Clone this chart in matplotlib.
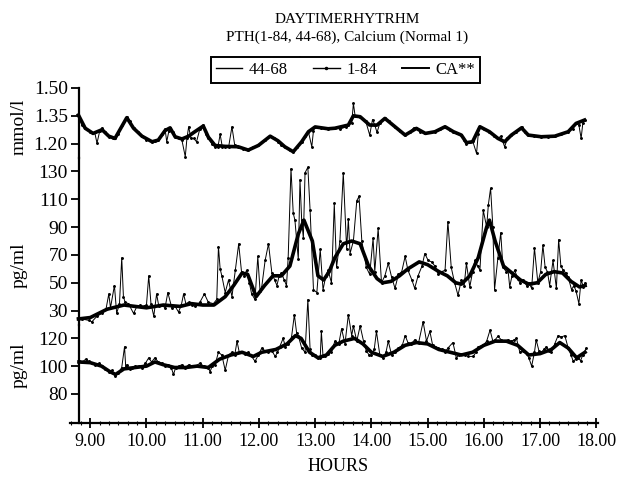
import matplotlib
matplotlib.use("Agg")
import matplotlib.pyplot as plt
from matplotlib.lines import Line2D
from matplotlib.ticker import MultipleLocator

plt.rcParams['font.family'] = ['Liberation Serif', 'DejaVu Serif']

# ---------------- data ----------------
# Calcium (mmol/l), raw samples
ca_t = [8.79, 8.85, 8.91, 9.00, 9.08, 9.12, 9.17, 9.21, 9.27, 9.33, 9.40, 9.44, 9.50, 9.57, 9.65, 9.70,
        9.77, 9.85, 9.92, 10.00, 10.10, 10.16, 10.21, 10.28, 10.33, 10.36, 10.40, 10.42, 10.47, 10.51,
        10.58, 10.63, 10.69, 10.72, 10.75, 10.79, 10.84, 10.89, 10.95, 11.01, 11.06, 11.10, 11.16, 11.22,
        11.27, 11.31, 11.35, 11.40, 11.46, 11.52, 11.57, 11.63, 11.72, 11.81, 11.90, 11.99, 12.10, 12.20,
        12.27, 12.34, 12.40, 12.46, 12.55, 12.61, 12.68, 12.76, 12.82, 12.88, 12.94, 12.97, 13.00, 13.10,
        13.23, 13.35, 13.45, 13.55, 13.59, 13.65, 13.68, 13.71, 13.80, 13.90, 13.97, 14.02, 14.06, 14.10,
        14.15, 14.24, 14.32, 14.42, 14.50, 14.60, 14.68, 14.75, 14.80, 14.87, 14.96, 15.05, 15.13, 15.22,
        15.31, 15.40, 15.46, 15.53, 15.60, 15.65, 15.69, 15.75, 15.80, 15.87, 15.90, 15.93, 16.00, 16.10,
        16.18, 16.25, 16.30, 16.37, 16.42, 16.49, 16.58, 16.67, 16.73, 16.79, 16.90, 17.02, 17.14, 17.26,
        17.38, 17.50, 17.58, 17.64, 17.69, 17.73, 17.76, 17.79]
ca_v = [1.354, 1.300, 1.283, 1.260, 1.260, 1.202, 1.270, 1.286, 1.260, 1.237, 1.230, 1.228, 1.250, 1.300,
        1.345, 1.320, 1.283, 1.260, 1.240, 1.220, 1.210, 1.215, 1.219, 1.250, 1.280, 1.210, 1.270, 1.285,
        1.260, 1.237, 1.230, 1.219, 1.129, 1.230, 1.291, 1.230, 1.228, 1.210, 1.280, 1.300, 1.250, 1.228,
        1.200, 1.183, 1.180, 1.250, 1.180, 1.183, 1.180, 1.291, 1.190, 1.183, 1.170, 1.165, 1.180, 1.192,
        1.220, 1.240, 1.230, 1.210, 1.190, 1.183, 1.165, 1.156, 1.180, 1.210, 1.240, 1.264, 1.183, 1.270,
        1.291, 1.285, 1.279, 1.283, 1.280, 1.290, 1.300, 1.310, 1.417, 1.350, 1.345, 1.320, 1.246, 1.330,
        1.300, 1.260, 1.310, 1.336, 1.320, 1.291, 1.270, 1.246, 1.260, 1.285, 1.282, 1.265, 1.255, 1.260,
        1.264, 1.280, 1.291, 1.275, 1.264, 1.255, 1.246, 1.220, 1.200, 1.210, 1.215, 1.147, 1.250, 1.291,
        1.280, 1.264, 1.240, 1.228, 1.240, 1.183, 1.230, 1.246, 1.260, 1.291, 1.260, 1.246, 1.240, 1.237,
        1.235, 1.240, 1.250, 1.264, 1.280, 1.309, 1.300, 1.228, 1.310, 1.327]
# Calcium, smoothed curve
ca_st = [8.79, 8.91, 9.05, 9.21, 9.33, 9.44, 9.65, 9.77, 9.92, 10.10, 10.21, 10.33, 10.42, 10.51, 10.63,
         10.75, 10.84, 11.01, 11.10, 11.22, 11.40, 11.63, 11.81, 11.99, 12.20, 12.34, 12.46, 12.61, 12.76,
         12.88, 13.00, 13.23, 13.35, 13.59, 13.68, 13.80, 13.97, 14.10, 14.24, 14.42, 14.60, 14.80, 14.96,
         15.13, 15.31, 15.46, 15.60, 15.69, 15.80, 15.93, 16.10, 16.25, 16.37, 16.49, 16.67, 16.79, 17.02,
         17.26, 17.50, 17.64, 17.79]
ca_sv = [1.354, 1.283, 1.255, 1.275, 1.240, 1.228, 1.340, 1.283, 1.240, 1.210, 1.219, 1.270, 1.285, 1.237,
         1.225, 1.240, 1.260, 1.295, 1.235, 1.190, 1.185, 1.183, 1.165, 1.190, 1.240, 1.215, 1.183, 1.156,
         1.210, 1.264, 1.290, 1.280, 1.283, 1.300, 1.350, 1.345, 1.300, 1.300, 1.336, 1.291, 1.246, 1.282,
         1.255, 1.264, 1.291, 1.264, 1.246, 1.205, 1.210, 1.291, 1.264, 1.228, 1.210, 1.246, 1.285, 1.246,
         1.237, 1.240, 1.264, 1.309, 1.327]

# PTH 1-84 (pg/ml), raw samples
p184_t = [8.79, 8.85, 8.97, 9.03, 9.12, 9.21, 9.28, 9.33, 9.36, 9.43, 9.47, 9.52, 9.56, 9.59, 9.62, 9.68,
          9.77, 9.83, 9.89, 9.95, 10.00, 10.04, 10.08, 10.13, 10.18, 10.22, 10.27, 10.33, 10.38, 10.45,
          10.51, 10.57, 10.62, 10.66, 10.70, 10.75, 10.81, 10.87, 10.95, 11.03, 11.10, 11.19, 11.25, 11.28,
          11.31, 11.34, 11.40, 11.46, 11.52, 11.58, 11.64, 11.69, 11.74, 11.78, 11.83, 11.87, 11.93, 11.98,
          12.02, 12.05, 12.11, 12.17, 12.23, 12.28, 12.32, 12.36, 12.40, 12.45, 12.49, 12.52, 12.57, 12.61,
          12.64, 12.70, 12.73, 12.76, 12.79, 12.82, 12.87, 12.91, 12.97, 13.03, 13.09, 13.14, 13.19, 13.23,
          13.29, 13.34, 13.38, 13.44, 13.50, 13.56, 13.59, 13.62, 13.68, 13.74, 13.78, 13.83, 13.91, 13.97,
          14.03, 14.06, 14.12, 14.18, 14.24, 14.30, 14.36, 14.42, 14.48, 14.54, 14.60, 14.65, 14.72, 14.77,
          14.83, 14.90, 14.95, 15.01, 15.07, 15.13, 15.19, 15.25, 15.31, 15.36, 15.42, 15.48, 15.54, 15.60,
          15.65, 15.69, 15.75, 15.80, 15.84, 15.89, 15.93, 15.99, 16.05, 16.08, 16.12, 16.16, 16.19, 16.25,
          16.30, 16.34, 16.40, 16.43, 16.46, 16.50, 16.55, 16.60, 16.64, 16.70, 16.76, 16.80, 16.85, 16.90,
          16.96, 17.01, 17.05, 17.09, 17.13, 17.17, 17.23, 17.29, 17.33, 17.37, 17.41, 17.46, 17.50, 17.56,
          17.60, 17.64, 17.69, 17.73, 17.77, 17.80]
p184_v = [25, 24, 23, 22, 26, 28, 31, 42, 32, 48, 28, 35, 68, 40, 36, 35,
          28, 33, 34, 33, 34, 55, 35, 26, 42, 33, 34, 32, 43, 32,
          33, 29, 34, 42, 35, 36, 34, 33, 36, 42, 36, 35, 38, 76,
          60, 55, 43, 52, 40, 59, 78, 58, 55, 59, 50, 42, 38, 69,
          44, 47, 66, 78, 57, 52, 48, 55, 57, 52, 48, 68, 132, 100,
          95, 67, 124, 95, 82, 129, 133, 102, 45, 43, 74, 45, 55, 59,
          50, 107, 61, 80, 129, 74, 96, 71, 80, 109, 112, 80, 61, 56,
          82, 58, 89, 50, 55, 64, 54, 46, 56, 58, 69, 59, 52, 46,
          55, 62, 71, 66, 65, 62, 56, 58, 59, 94, 61, 50, 41, 52,
          48, 64, 47, 58, 66, 62, 59, 102, 90, 106, 118, 90, 45, 68,
          86, 61, 58, 59, 47, 55, 59, 53, 50, 52, 48, 50, 46, 75,
          50, 58, 77, 61, 58, 48, 66, 46, 81, 62, 59, 57, 54, 45,
          48, 44, 35, 52, 47, 50]
# PTH 1-84, smoothed curve
p184_st = [8.79, 9.00, 9.30, 9.60, 9.80, 10.00, 10.30, 10.60, 10.80, 11.00, 11.20, 11.40, 11.55, 11.70,
           11.80, 11.95, 12.10, 12.25, 12.40, 12.55, 12.70, 12.80, 12.95, 13.05, 13.15, 13.25, 13.35, 13.50,
           13.65, 13.80, 13.95, 14.10, 14.20, 14.35, 14.50, 14.65, 14.85, 15.00, 15.20, 15.35, 15.50, 15.60,
           15.75, 15.90, 16.05, 16.10, 16.20, 16.35, 16.50, 16.65, 16.80, 16.95, 17.10, 17.25, 17.40, 17.55,
           17.70, 17.80]
p184_sv = [24, 25, 31, 34, 33, 32, 34, 33, 35, 34, 34, 40, 48, 57, 56, 40, 48, 55, 55, 62, 85, 95, 80, 55,
           52, 58, 68, 78, 80, 78, 62, 53, 50, 51, 55, 60, 65, 63, 58, 55, 50, 49, 55, 68, 90, 95, 80, 62,
           57, 52, 49, 50, 56, 58, 57, 51, 47, 48]

# PTH 44-68 (pg/ml), raw samples
p4468_t = [8.80, 8.86, 8.92, 8.97, 9.03, 9.09, 9.15, 9.21, 9.27, 9.33, 9.38, 9.44, 9.50, 9.56, 9.61, 9.63,
           9.65, 9.70, 9.74, 9.80, 9.86, 9.92, 9.98, 10.04, 10.09, 10.15, 10.21, 10.27, 10.33, 10.39, 10.44,
           10.48, 10.52, 10.57, 10.63, 10.69, 10.75, 10.81, 10.87, 10.95, 11.02, 11.10, 11.13, 11.17, 11.22,
           11.28, 11.34, 11.40, 11.46, 11.52, 11.57, 11.61, 11.65, 11.69, 11.75, 11.81, 11.87, 11.93, 11.99,
           12.05, 12.11, 12.17, 12.23, 12.29, 12.33, 12.37, 12.43, 12.47, 12.52, 12.58, 12.63, 12.67, 12.70,
           12.76, 12.82, 12.87, 12.91, 12.95, 13.00, 13.05, 13.09, 13.11, 13.14, 13.17, 13.23, 13.29, 13.35,
           13.42, 13.47, 13.53, 13.59, 13.65, 13.68, 13.74, 13.80, 13.86, 13.91, 13.96, 14.00, 14.05, 14.09,
           14.15, 14.21, 14.26, 14.30, 14.36, 14.42, 14.48, 14.55, 14.60, 14.65, 14.71, 14.77, 14.84, 14.92,
           14.98, 15.04, 15.09, 15.13, 15.19, 15.25, 15.31, 15.36, 15.45, 15.51, 15.56, 15.60, 15.66, 15.72,
           15.81, 15.86, 15.90, 15.99, 16.05, 16.11, 16.16, 16.20, 16.25, 16.31, 16.37, 16.43, 16.49, 16.54,
           16.58, 16.64, 16.70, 16.76, 16.80, 16.85, 16.90, 16.93, 16.98, 17.02, 17.07, 17.11, 17.16, 17.20,
           17.26, 17.32, 17.38, 17.44, 17.50, 17.55, 17.59, 17.63, 17.67, 17.72, 17.76, 17.82]
p4468_v = [104, 103, 105, 103.5, 102, 101, 102, 100, 98, 96, 97, 93, 95, 99, 114, 100,
           101, 98, 98.6, 100, 100, 99, 102, 106, 103, 106, 103, 102, 100, 101, 99,
           94, 99, 100, 101, 99, 101, 100, 100, 102, 100, 99, 96, 100, 101,
           110, 108, 97, 108, 110, 108, 118, 110, 110, 109, 110, 107, 103.5, 108,
           113, 111, 110, 111, 107, 110, 114, 120, 114, 116, 121, 137, 124, 122,
           113, 110, 148, 112, 108, 108, 106, 106, 125, 107, 107, 109, 110, 118,
           116, 127, 116, 137, 122, 129, 118, 129, 118, 111, 108, 108, 112, 125,
           108, 106, 110, 118, 108, 110, 113, 115, 122, 117, 116, 119, 117, 132,
           118, 125, 115, 114, 113, 112, 110, 113, 117, 106, 108, 109, 108, 107,
           107, 110, 114, 115, 118, 126, 118, 119, 121.5, 119, 118, 119, 118, 119,
           120, 110, 111, 109, 106, 100, 110, 119, 111, 110, 112, 114, 111, 110,
           116, 122, 121, 122, 113, 108, 103.5, 105, 106, 104, 108, 113]
# PTH 44-68, smoothed curve
p4468_st = [8.80, 9.00, 9.20, 9.35, 9.45, 9.60, 9.80, 10.00, 10.15, 10.30, 10.50, 10.70, 10.90, 11.10,
            11.30, 11.50, 11.70, 11.90, 12.05, 12.30, 12.50, 12.65, 12.75, 12.90, 13.05, 13.20, 13.35,
            13.50, 13.70, 13.85, 14.00, 14.20, 14.40, 14.60, 14.80, 15.00, 15.20, 15.40, 15.60, 15.80,
            16.00, 16.20, 16.40, 16.60, 16.80, 17.00, 17.20, 17.35, 17.50, 17.65, 17.80]
p4468_sv = [103, 102.5, 100, 96, 94, 98, 99, 100, 103, 101, 99, 99, 100, 99, 105, 108, 110, 107, 110, 112,
            116, 122, 120, 110, 106, 108, 115, 118, 120, 116, 110, 107, 110, 115, 117, 116, 112, 110, 108,
            110, 115, 118, 118, 115, 108, 109, 112, 117, 113, 106, 110]

hour_ticks = [9, 10, 11, 12, 13, 14, 15, 16, 17, 18]
hour_labels = ["9.00", "10.00", "11.00", "12.00", "13.00", "14.00", "15.00", "16.00", "17.00", "18.00"]
ca_ticks = [1.20, 1.35, 1.50]
ca_labels = ["1.20", "1.35", "1.50"]
p184_ticks = [30, 50, 70, 90, 110, 130]
p4468_ticks = [80, 100, 120]
legend_labels = ["44-68", "1-84", "CA**"]

# ---------------- figure ----------------
fig = plt.figure(figsize=(6.17, 4.78), dpi=100)
L, W = 70 / 617, 528 / 617
ax_top = fig.add_axes([L, 0.6705, W, 0.1454])
ax_mid = fig.add_axes([L, 0.3211, W, 0.3494])
ax_bot = fig.add_axes([L, 0.1151, W, 0.2060])

raw_kw = dict(color='black', lw=0.7, marker='.', ms=2.2, clip_on=False)
smooth_kw = dict(color='black', lw=2.6, solid_joinstyle='round', clip_on=False)

ax_top.plot(ca_t, ca_v, **raw_kw)
ax_top.plot(ca_st, ca_sv, **smooth_kw)
ax_mid.plot(p184_t, p184_v, **raw_kw)
ax_mid.plot(p184_st, p184_sv, **smooth_kw)
ax_bot.plot(p4468_t, p4468_v, **raw_kw)
ax_bot.plot(p4468_st, p4468_sv, **smooth_kw)

ax_top.set_ylim(1.125, 1.50)
ax_mid.set_ylim(20, 140)
ax_bot.set_ylim(59, 130)
ax_top.set_yticks(ca_ticks)
ax_top.set_yticklabels(ca_labels)
ax_mid.set_yticks(p184_ticks)
ax_bot.set_yticks(p4468_ticks)

for ax in (ax_top, ax_mid, ax_bot):
    ax.set_xlim(8.64, 18.03)
    ax.patch.set_alpha(0)
    for s in ('top', 'right'):
        ax.spines[s].set_visible(False)
    ax.spines['left'].set_position(('data', 8.8))
    ax.spines['left'].set_linewidth(1.6)
    ax.tick_params(axis='y', direction='out', length=6, width=1.3, pad=2, labelsize=14)
    if ax is not ax_bot:
        ax.spines['bottom'].set_visible(False)
        ax.tick_params(axis='x', which='both', bottom=False, labelbottom=False)

ax_bot.spines['bottom'].set_linewidth(1.6)
ax_bot.set_xticks(hour_ticks)
ax_bot.set_xticklabels(hour_labels)
ax_bot.xaxis.set_minor_locator(MultipleLocator(1 / 6))
ax_bot.tick_params(axis='x', which='major', direction='inout', length=7, width=1.3, pad=4, labelsize=13)
ax_bot.tick_params(axis='x', which='minor', direction='inout', length=3, width=0.8)

# axis titles
fig.text(0.031, 0.734, "mmol/l", rotation=90, ha='center', va='center', fontsize=14)
fig.text(0.031, 0.445, "pg/ml", rotation=90, ha='center', va='center', fontsize=14)
fig.text(0.031, 0.236, "pg/ml", rotation=90, ha='center', va='center', fontsize=14)
fig.text(0.548, 0.025, "HOURS", ha='center', va='center', fontsize=13)
fig.text(0.562, 0.960, "DAYTIMERHYTRHM", ha='center', va='center', fontsize=11)
fig.text(0.562, 0.923, "PTH(1-84, 44-68), Calcium (Normal 1)", ha='center', va='center', fontsize=11)

# legend (boxed, with cell dividers)
handles = [Line2D([], [], color='black', lw=1.0),
           Line2D([], [], color='black', lw=1.0, marker='.', ms=3),
           Line2D([], [], color='black', lw=1.4)]
leg = fig.legend(handles, legend_labels, loc='center', bbox_to_anchor=(0.56, 0.853), ncol=3,
                 frameon=True, fancybox=False, edgecolor='black', framealpha=1, fontsize=12,
                 handlelength=1.6, handletextpad=0.4, columnspacing=1.5, borderpad=0.3,
                 borderaxespad=0)
leg.get_frame().set_linewidth(1.4)

fig.canvas.draw()
r = fig.canvas.get_renderer()
fb = leg.get_frame().get_window_extent(r)
tb = [t.get_window_extent(r) for t in leg.get_texts()]
hb = [h.get_window_extent(r) for h in leg.legend_handles]
for i in range(2):
    xd = (tb[i].x1 + hb[i + 1].x0) / 2 / fig.bbox.width
    fig.add_artist(Line2D([xd, xd], [fb.y0 / fig.bbox.height, fb.y1 / fig.bbox.height],
                          transform=fig.transFigure, color='black', lw=1.2))

fig.savefig("out.png", dpi=100)
